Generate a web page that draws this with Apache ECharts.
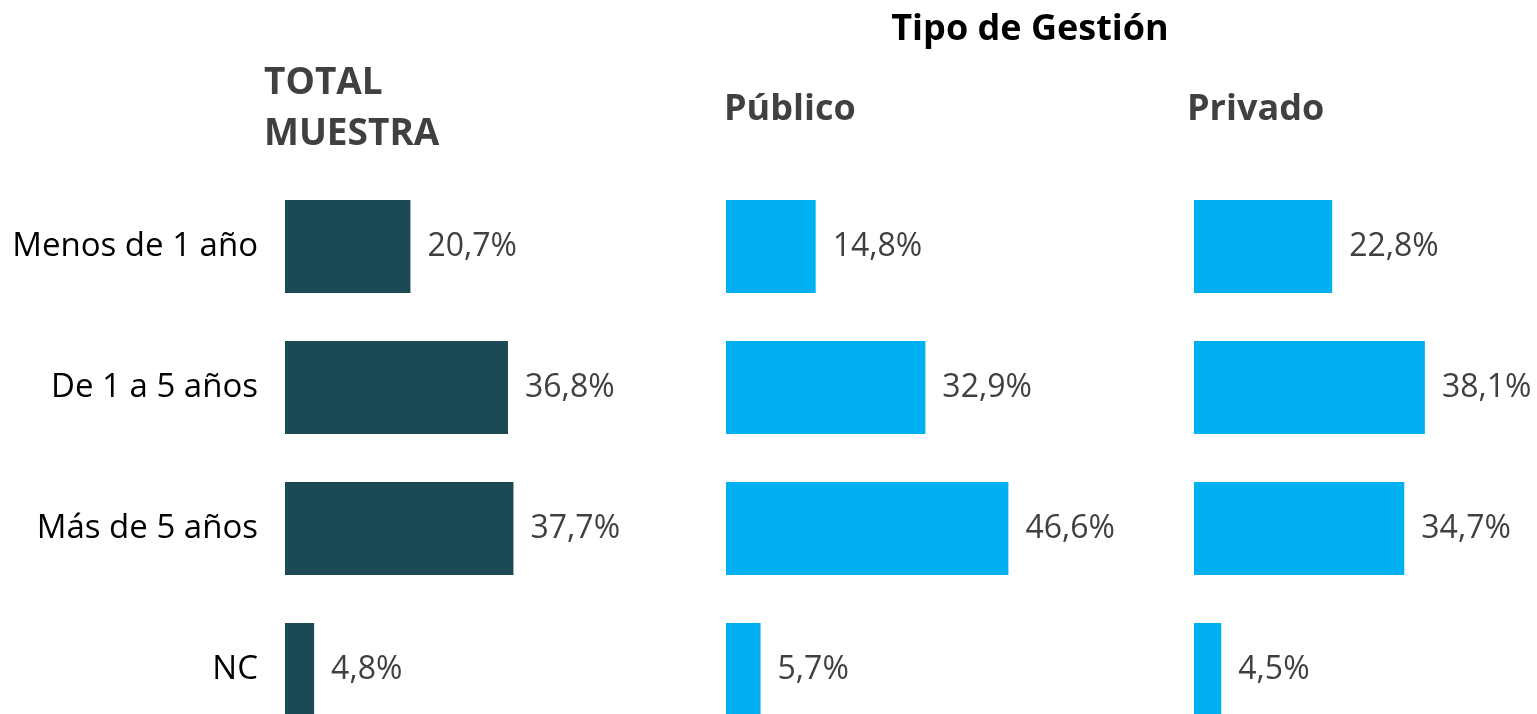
<!DOCTYPE html>
<html>
<head>
<meta charset="utf-8">
<script src="https://cdn.jsdelivr.net/npm/echarts@6/dist/echarts.min.js"></script>
<style>
  html, body { margin: 0; padding: 0; background: #fff; }
  #chart { width: 1537px; height: 714px; }
</style>
</head>
<body>
<div id="chart"></div>
<script>
  var categorias = ['Menos de 1 año', 'De 1 a 5 años', 'Más de 5 años', 'NC'];
  var totalMuestra = [20.7, 36.8, 37.7, 4.8];
  var publico = [14.8, 32.9, 46.6, 5.7];
  var privado = [22.8, 38.1, 34.7, 4.5];

  var myChart = echarts.init(document.getElementById('chart'));

  var fuente = '"Open Sans", "Liberation Sans", sans-serif';
  var pxPorPunto = 6.06;   // ancho de 1% en pixeles
  var maxEje = 50;

  // la ultima fila queda cortada por abajo, como en la imagen original
  function grid(left) {
    return { left: left, top: 176, height: 564, width: pxPorPunto * maxEje, outerBoundsMode: 'none' };
  }

  function ejeX(idx) {
    return { gridIndex: idx, type: 'value', min: 0, max: maxEje, show: false };
  }

  function ejeY(idx, conLabels) {
    return {
      gridIndex: idx,
      type: 'category',
      inverse: true,
      data: categorias,
      axisLine: { show: false },
      axisTick: { show: false },
      axisLabel: {
        show: conLabels,
        margin: 27,
        fontFamily: fuente,
        fontSize: 33,
        color: '#000'
      }
    };
  }

  function serie(idx, datos, color) {
    return {
      type: 'bar',
      xAxisIndex: idx,
      yAxisIndex: idx,
      data: datos,
      barWidth: 93,
      itemStyle: { color: color },
      label: {
        show: true,
        position: 'right',
        distance: 17,
        fontFamily: fuente,
        fontSize: 32,
        color: '#404040',
        formatter: function (p) { return p.value.toFixed(1).replace('.', ',') + '%'; }
      },
      silent: true
    };
  }

  var option = {
    animation: false,
    grid: [grid(285), grid(726), grid(1194)],
    xAxis: [ejeX(0), ejeX(1), ejeX(2)],
    yAxis: [ejeY(0, true), ejeY(1, false), ejeY(2, false)],
    series: [
      serie(0, totalMuestra, '#1B4A55'),
      serie(1, publico, '#00B0F0'),
      serie(2, privado, '#00B0F0')
    ],
    graphic: [
      {
        type: 'text', x: 1030, y: 30,
        style: { text: 'Tipo de Gestión', fontFamily: fuente, fontWeight: 'bold', fontSize: 36, fill: '#000', align: 'center', verticalAlign: 'middle' }
      },
      {
        type: 'text', x: 264, y: 109,
        style: { text: 'TOTAL\nMUESTRA', fontFamily: fuente, fontWeight: 'bold', fontSize: 37, lineHeight: 51, fill: '#404040', align: 'left', verticalAlign: 'middle' }
      },
      {
        type: 'text', x: 724, y: 110,
        style: { text: 'Público', fontFamily: fuente, fontWeight: 'bold', fontSize: 36, fill: '#404040', align: 'left', verticalAlign: 'middle' }
      },
      {
        type: 'text', x: 1187, y: 110,
        style: { text: 'Privado', fontFamily: fuente, fontWeight: 'bold', fontSize: 36, fill: '#404040', align: 'left', verticalAlign: 'middle' }
      }
    ]
  };

  myChart.setOption(option);
</script>
</body>
</html>
